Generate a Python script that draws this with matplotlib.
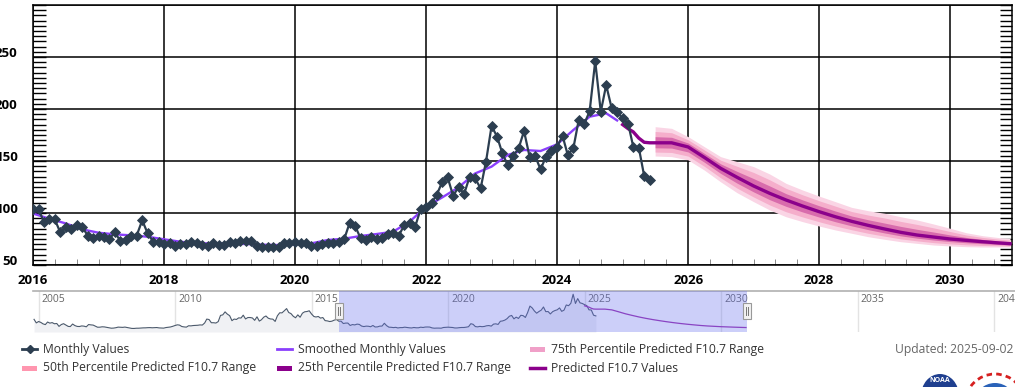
import pandas as pd
import matplotlib
matplotlib.use("Agg")
import matplotlib.pyplot as plt
import matplotlib.dates as mdates
import matplotlib.transforms as mtransforms
from matplotlib.lines import Line2D
from matplotlib.patches import Rectangle, Ellipse, Circle
from matplotlib.ticker import MultipleLocator, FuncFormatter

plt.rcParams["font.family"] = ["Open Sans", "DejaVu Sans"]

W, H = 1015, 387

# Observed monthly F10.7 values, one list per year (2025 ends in June).
OBS_2016 = [103.8, 103.8, 91.6, 94.0, 94.0, 81.4, 86.2, 84.3, 88.5, 86.9, 78.2, 75.6]
OBS_2017 = [77.9, 77.2, 74.7, 81.4, 73.4, 74.0, 77.9, 78.2, 93.0, 80.5, 72.4, 71.8]
OBS_2018 = [70.2, 71.5, 68.3, 70.2, 70.2, 72.4, 70.8, 69.2, 68.3, 70.8, 69.2, 69.2]
OBS_2019 = [72.4, 70.8, 73.0, 73.4, 73.0, 68.6, 67.0, 67.6, 67.6, 67.0, 70.8, 71.4]
OBS_2020 = [72.4, 71.4, 70.8, 68.3, 68.3, 69.9, 70.8, 70.8, 72.4, 74.7, 90.7, 87.5]
OBS_2021 = [75.6, 74.0, 76.6, 75.0, 76.3, 79.8, 81.0, 77.9, 88.5, 90.0, 86.9, 103.5]
OBS_2022 = [105.4, 110.0, 117.3, 130.0, 134.3, 116.3, 125.3, 118.3, 135.0, 133.3, 123.7, 149.4]
OBS_2023 = [183.6, 173.4, 158.0, 146.0, 154.8, 162.2, 178.8, 154.2, 154.8, 142.0, 154.2, 160.0]
OBS_2024 = [163.8, 174.0, 155.8, 162.2, 189.4, 185.6, 198.0, 246.0, 197.4, 223.0, 200.6, 197.4]
OBS_2025 = [191.0, 185.6, 163.8, 162.9, 135.6, 131.7]

# Older monthly values only seen in the navigator (Nov 2004 - Dec 2015).
HIST_2004 = [113.7, 95.0]
HIST_2005 = [102.3, 97.2, 89.9, 85.9, 99.5, 93.7, 96.5, 90.3, 91.9, 76.6, 86.3, 90.8]
HIST_2006 = [83.4, 76.5, 75.6, 89.0, 80.9, 76.5, 75.8, 79.0, 77.8, 74.2, 86.4, 84.5]
HIST_2007 = [83.4, 77.5, 72.2, 72.4, 74.4, 73.7, 71.6, 69.1, 67.0, 67.6, 69.6, 72.7]
HIST_2008 = [71.8, 71.4, 72.9, 70.6, 68.4, 65.9, 65.7, 66.9, 67.0, 68.1, 68.7, 68.9]
HIST_2009 = [69.8, 70.1, 69.2, 69.7, 70.5, 68.6, 67.9, 67.4, 70.4, 72.2, 73.5, 77.0]
HIST_2010 = [81.3, 84.8, 83.4, 75.9, 73.8, 72.6, 79.9, 79.2, 81.1, 81.6, 82.5, 84.3]
HIST_2011 = [83.6, 94.6, 115.0, 112.6, 95.9, 95.8, 94.2, 101.7, 134.5, 137.2, 153.1, 141.2]
HIST_2012 = [133.1, 106.7, 115.1, 113.1, 121.5, 120.5, 135.6, 115.7, 123.2, 123.3, 120.9, 108.4]
HIST_2013 = [127.1, 104.4, 111.3, 125.0, 131.3, 119.6, 115.6, 114.8, 102.7, 132.3, 148.3, 147.7]
HIST_2014 = [158.6, 170.3, 149.9, 143.8, 130.0, 122.0, 137.3, 124.7, 146.1, 153.4, 155.0, 158.7]
HIST_2015 = [141.7, 128.8, 126.0, 128.8, 120.1, 123.2, 107.0, 105.4, 102.1, 104.1, 109.6, 112.8]

# Smoothed monthly values, read every quarter (Jan, Apr, Jul, Oct) plus Dec 2024.
SMOOTHED = [99.5, 94.5, 90.0, 84.3, 81.0, 79.5, 78.5, 77.2, 74.7, 72.4, 70.8, 70.8,
            70.5, 70.2, 69.5, 69.2, 69.9, 70.8, 74.0, 75.3, 77.9, 79.8, 82.0, 91.7,
            106.0, 115.0, 124.7, 138.0, 144.6, 155.8, 160.6, 159.6, 166.0, 179.8,
            192.6, 195.9, 189.0]

# Predicted values Jan - Jun 2025 (before the ranges start).
PRED_EARLY = [185.0, 181.0, 178.0, 172.0, 168.0, 167.5]

# Prediction and ranges, quarterly from Jul 2025 plus Dec 2030.
PRED = [167.5, 167.5, 163.5, 153.5, 143.0, 134.3, 126.0, 118.9, 112.5, 106.7, 101.3,
        96.4, 92.0, 88.1, 84.6, 81.4, 78.8, 76.9, 75.0, 73.7, 72.4, 71.2, 70.5]
P75_HIGH = [183.0, 181.4, 173.4, 163.8, 154.2, 149.4, 144.6, 137.5, 128.5, 122.1, 116.3,
            110.9, 105.4, 102.2, 99.7, 96.4, 93.3, 89.4, 85.3, 81.0, 78.2, 76.3, 75.5]
P75_LOW = [154.8, 154.2, 151.0, 141.3, 130.0, 119.5, 110.9, 102.9, 96.4, 91.7, 87.5,
           83.7, 80.5, 77.2, 74.7, 72.4, 70.8, 69.2, 68.3, 67.6, 67.3, 67.3, 67.3]
P50_HIGH = [178.4, 177.2, 170.4, 160.7, 150.8, 144.9, 139.0, 131.9, 123.7, 117.5, 111.8,
            106.6, 101.4, 98.0, 95.2, 91.9, 89.0, 85.7, 82.2, 78.8, 76.5, 74.8, 74.0]
P50_LOW = [158.6, 158.2, 154.7, 145.0, 133.9, 123.9, 115.4, 107.7, 101.2, 96.2, 91.6,
           87.5, 83.9, 80.5, 77.7, 75.1, 73.2, 71.5, 70.3, 69.4, 68.8, 68.5, 68.3]
P25_HIGH = [173.4, 172.8, 167.3, 157.4, 147.3, 140.0, 133.1, 126.0, 118.6, 112.6, 107.0,
            101.9, 97.1, 93.5, 90.3, 87.1, 84.3, 81.7, 78.9, 76.5, 74.6, 73.1, 72.4]
P25_LOW = [162.7, 162.4, 158.7, 148.9, 138.1, 128.7, 120.3, 112.8, 106.4, 101.0, 96.1,
           91.6, 87.6, 84.0, 80.8, 78.0, 75.8, 74.0, 72.5, 71.4, 70.5, 69.7, 69.3]

C_OBS = "#2c3e50"
C_SMOOTH = "#8a3ffc"
C_PRED = "#8b008b"
C_P75 = "#f0a0c8"
C_P50 = "#ff96af"
C_TEXT = "#333333"
LEGEND_SIZE = 8.7


def px(x, y):
    # Pixel position (from top-left) to figure fraction.
    return x / W, 1 - y / H


obs = OBS_2016 + OBS_2017 + OBS_2018 + OBS_2019 + OBS_2020 + OBS_2021 + OBS_2022 \
    + OBS_2023 + OBS_2024 + OBS_2025
obs_dates = pd.date_range("2016-01-01", periods=len(obs), freq="MS")

hist = HIST_2004 + HIST_2005 + HIST_2006 + HIST_2007 + HIST_2008 + HIST_2009 \
    + HIST_2010 + HIST_2011 + HIST_2012 + HIST_2013 + HIST_2014 + HIST_2015
hist_dates = pd.date_range("2004-11-01", periods=len(hist), freq="MS")

smooth_dates = list(pd.date_range("2016-01-01", "2024-10-01", freq="QS")) \
    + [pd.Timestamp("2024-12-01")]
early_dates = list(pd.date_range("2025-01-01", periods=len(PRED_EARLY), freq="MS"))
band_dates = list(pd.date_range("2025-07-01", "2030-10-01", freq="QS")) \
    + [pd.Timestamp("2030-12-01")]

x_start = pd.Timestamp("2016-01-01")
x_end = pd.Timestamp("2030-12-12")

fig = plt.figure(figsize=(W / 100, H / 100), dpi=100)

# Main chart.
ax = fig.add_axes([33 / W, 1 - 265 / H, (1012 - 33) / W, 260 / H])

ax.fill_between(band_dates, P75_LOW, P75_HIGH, color="#fad5e5", lw=0, zorder=2)
ax.fill_between(band_dates, P50_LOW, P50_HIGH, color="#f5aecb", lw=0, zorder=2)
ax.fill_between(band_dates, P25_LOW, P25_HIGH, color="#d86cac", lw=0, zorder=2)

ax.plot(smooth_dates, SMOOTHED, color=C_SMOOTH, lw=1.7, zorder=3)
ax.plot(early_dates + band_dates, PRED_EARLY + PRED, color=C_PRED, lw=2.4, zorder=4)
ax.plot(obs_dates, obs, color=C_OBS, lw=1.6, marker="D", markersize=5.3,
        markeredgewidth=0.6, zorder=5)

ax.set_xlim(x_start, x_end)
ax.set_ylim(50, 300)
ax.set_axisbelow(True)
ax.grid(which="major", color="black", lw=1.1)

ax.xaxis.set_major_locator(mdates.YearLocator(2))
ax.xaxis.set_major_formatter(mdates.DateFormatter("%Y"))
ax.xaxis.set_minor_locator(mdates.MonthLocator(bymonth=[1, 5, 9]))
ax.set_yticks([50, 100, 150, 200, 250, 300])
ax.yaxis.set_minor_locator(MultipleLocator(5))
ax.yaxis.set_major_formatter(FuncFormatter(lambda v, p: "" if v >= 300 else f"{v:.0f}"))

ax.tick_params(axis="x", which="major", length=0, pad=6.5)
ax.tick_params(axis="x", which="minor", length=4, direction="in", color="#777777")
ax.tick_params(axis="y", which="both", direction="in", left=True, right=True,
               length=9, width=1, pad=11)
for lbl in ax.get_xticklabels() + ax.get_yticklabels():
    lbl.set_fontweight("bold")
    lbl.set_fontsize(9.5)
    lbl.set_color("black")
for lbl in ax.get_yticklabels():
    lbl.set_verticalalignment("baseline")

for side in ["left", "bottom", "top", "right"]:
    ax.spines[side].set_color("black")
    ax.spines[side].set_linewidth(1.1)

# Navigator below the chart.
nav = fig.add_axes([33 / W, 1 - 332 / H, (W - 33) / W, 41 / H])
nav_start = pd.Timestamp("2004-10-18")
nav_end = pd.Timestamp("2040-10-08")
nav.set_xlim(nav_start, nav_end)
nav.set_ylim(47, 263)

blend = mtransforms.blended_transform_factory(nav.transData, nav.transAxes)
for year in range(2005, 2041, 5):
    d = pd.Timestamp(f"{year}-01-01")
    nav.axvline(d, color="#e3e3e3", lw=1, zorder=0)
    nav.text(d + pd.Timedelta(days=40), 0.93, str(year), transform=blend,
             ha="left", va="top", fontsize=7.5, color="#666666")

nav_dates = list(hist_dates) + list(obs_dates)
nav_vals = hist + obs
nav.fill_between(nav_dates, nav_vals, 47, color="#f0f1f4", lw=0, zorder=1)
nav.plot(nav_dates, nav_vals, color="#4b596b", lw=0.8, zorder=2)
nav.plot(early_dates + band_dates, PRED_EARLY + PRED, color="#9b2fae", lw=0.9, zorder=2)
nav.axvspan(x_start, x_end, color="#6670ee", alpha=0.33, lw=0, zorder=3)

nav.set_xticks([])
nav.set_yticks([])
for side in ["left", "bottom", "right"]:
    nav.spines[side].set_visible(False)
nav.spines["top"].set_color("#b0b0b0")
nav.spines["top"].set_linewidth(1.2)

# Selection handles at the edges of the visible range.
fig.canvas.draw()
for d in [x_start, x_end]:
    hx = nav.transData.transform((mdates.date2num(d), 0))[0]
    hy = H - 311
    fig.add_artist(Rectangle((hx - 4, hy - 8), 8, 16, transform=None,
                             facecolor="#f2f2f2", edgecolor="#999999", lw=0.8, zorder=10))
    for dx in (-1.2, 1.2):
        fig.add_artist(Line2D([hx + dx, hx + dx], [hy - 4, hy + 4], transform=None,
                              color="#777777", lw=0.7, zorder=11))

# Legend, drawn by hand in three columns.
row1, row2 = 349, 368
cols = [22, 277, 530]


def legend_line(x, y, color, lw, marker=None):
    fx0, fy = px(x, y)
    fx1, _ = px(x + 15, y)
    fig.add_artist(Line2D([fx0, fx1], [fy, fy], color=color, lw=lw))
    if marker:
        fig.add_artist(Line2D([(fx0 + fx1) / 2], [fy], color=color, marker=marker,
                              markersize=4.5, lw=0))


def legend_box(x, y, color):
    fx, fy = px(x, y + 2.5)
    fig.add_artist(Rectangle((fx, fy), 15 / W, 5 / H, color=color, lw=0))


def legend_text(x, y, text):
    fx, fy = px(x + 21, y)
    fig.text(fx, fy, text, ha="left", va="center", fontsize=LEGEND_SIZE, color=C_TEXT)


legend_line(cols[0], row1, C_OBS, 2, marker="D")
legend_text(cols[0], row1, "Monthly Values")
legend_line(cols[1], row1, C_SMOOTH, 2)
legend_text(cols[1], row1, "Smoothed Monthly Values")
legend_box(cols[2], row1, C_P75)
legend_text(cols[2], row1, "75th Percentile Predicted F10.7 Range")
legend_box(cols[0], row2, C_P50)
legend_text(cols[0], row2, "50th Percentile Predicted F10.7 Range")
legend_box(cols[1], row2, C_PRED)
legend_text(cols[1], row2, "25th Percentile Predicted F10.7 Range")
legend_line(cols[2], row2, C_PRED, 2.5)
legend_text(cols[2], row2, "Predicted F10.7 Values")

fx, fy = px(1013, 349)
fig.text(fx, fy, "Updated: 2025-09-02", ha="right", va="center", fontsize=LEGEND_SIZE,
         color="#666666")

# Logos at the bottom right, mostly cut off by the image edge.
fig.add_artist(Ellipse((940, H - 396), 38, 44, transform=None, facecolor="#1f3f8f",
                       edgecolor="none"))
fig.text(940 / W, 1 - 381 / H, "NOAA", ha="center", va="center", fontsize=5,
         color="white", fontweight="bold")
fig.add_artist(Circle((995, H - 404), 30, transform=None, facecolor="white",
                      edgecolor="#d62020", lw=2, linestyle=(0, (2, 1.5))))
fig.add_artist(Circle((995, H - 404), 21, transform=None, facecolor="#2a62b8",
                      edgecolor="none"))

fig.savefig("out.png", dpi=100)
